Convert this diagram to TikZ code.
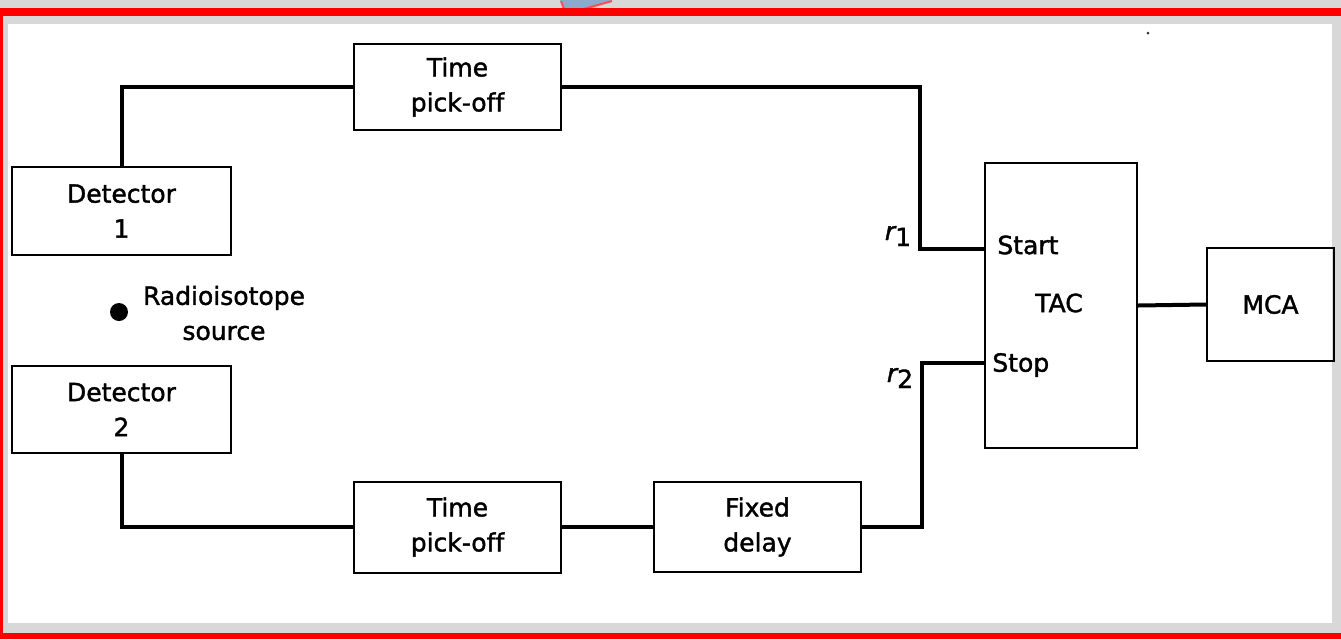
\documentclass[tikz,border=0pt]{standalone}
\usepackage{fontspec}
\setmainfont{DejaVu Sans}[Ligatures=NoCommon, RawFeature={embolden=1.5}]
\definecolor{framered}{RGB}{255,0,0}
\definecolor{panelgray}{RGB}{216,216,216}
\definecolor{tabblue}{RGB}{140,170,205}
\tikzset{
  blk/.style={draw, line width=1pt, rectangle, align=center, inner sep=0pt,
    font=\fontsize{12.5}{17.5}\selectfont},
  wire/.style={line width=2pt},
  lbl/.style={inner sep=0pt, font=\fontsize{12.5}{17.5}\selectfont},
}
\begin{document}
\begin{tikzpicture}[x=0.5pt, y=-0.5pt]
\useasboundingbox (0,0) rectangle (1341,639);
% window frame
\fill[panelgray] (0,0) rectangle (1341,639);
\fill[white] (8,24) rectangle (1332,623);
\fill[tabblue] (560,0) -- (612,0) -- (566,14) -- cycle;
\draw[framered!70, line width=1pt] (612,1) -- (566,14) -- (561,1);
\fill[framered] (0,8) rectangle (1341,16);
\fill[framered] (0,16) rectangle (3,639);
\fill[framered] (0,633) rectangle (1341,639);
\fill[black!80] (1148,33) circle (1.5);

% blocks
\node[blk, minimum width=109.5pt, minimum height=44pt] (det1) at (121.5,211) {Detector\\1};
\node[blk, minimum width=109.5pt, minimum height=43.5pt] (det2) at (121.5,409.5) {Detector\\2};
\node[blk, minimum width=103.5pt, minimum height=43pt] (tpo1) at (457.5,87) {Time\\pick-off};
\node[blk, minimum width=103.5pt, minimum height=45.5pt] (tpo2) at (457.5,527) {Time\\pick-off};
\node[blk, minimum width=103.5pt, minimum height=45pt] (delay) at (757.5,527) {Fixed\\delay};
\node[blk, minimum width=76pt, minimum height=142.5pt] (tac) at (1061,305.5) {};
\node[blk, minimum width=63.5pt, minimum height=56.5pt] (mca) at (1270.5,304.5) {MCA};

% source
\node[circle, fill, inner sep=0pt, minimum size=9pt] (src) at (119,312) {};
\node[lbl, align=center] (srclbl) at (224,313) {Radioisotope\\source};

% TAC inputs
\coordinate (r1) at (920,249);
\coordinate (r2) at (922,363);
\node[lbl, anchor=west] (start) at (997,245) {Start};
\node[lbl, anchor=west] (stop) at (992,365) {Stop};
\node[lbl] (taclbl) at (1059,303) {TAC};
\node[lbl] (r1lbl) at (898,236) {{\itshape r}\raisebox{-3pt}{1}};
\node[lbl] (r2lbl) at (900,378) {{\itshape r}\raisebox{-3pt}{2}};

% wiring
\draw[wire] (det1.north) |- (tpo1.west);
\draw[wire] (tpo1.east) -| (r1) -- (r1 -| tac.west);
\draw[wire] (det2.south) |- (tpo2.west);
\draw[wire] (tpo2.east) -- (delay.west);
\draw[wire] (delay.east) -| (r2) -- (r2 -| tac.west);
\draw[wire] (tac.east) -- (mca.west);
\end{tikzpicture}
\end{document}
